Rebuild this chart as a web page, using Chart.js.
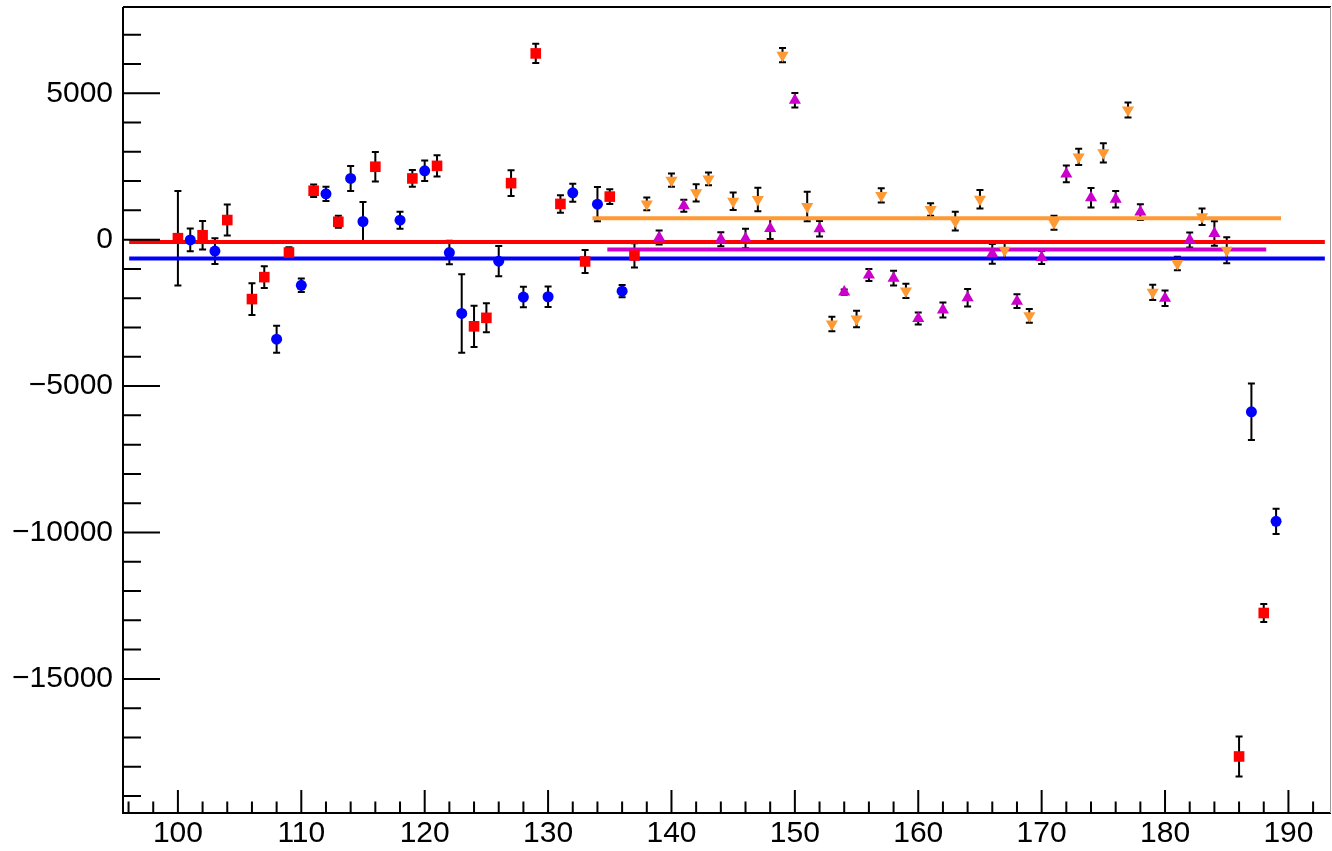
<!DOCTYPE html>
<html>
<head>
<meta charset="utf-8">
<script src="https://cdn.jsdelivr.net/npm/chart.js@4.4.0/dist/chart.umd.min.js"></script>
<style>
  html, body { margin: 0; padding: 0; background: #fff; }
  #wrap { width: 1332px; height: 851px; }
</style>
</head>
<body>
<div id="wrap"><canvas id="chart" width="1332" height="851"></canvas></div>
<script>
// axis labels
const xTicks = [100, 110, 120, 130, 140, 150, 160, 170, 180, 190];
const yTicks = [5000, 0, -5000, -10000, -15000];

// red squares
const redX = [100, 102, 104, 106, 107, 109, 111, 113, 116, 119, 121, 124, 125, 127, 129, 131, 133, 135, 137, 186, 188];
const redY = [50, 150, 670, -2030, -1280, -440, 1670, 610, 2490, 2090, 2520, -2960, -2670, 1930, 6360, 1220, -745, 1470, -540, -17650, -12750];
const redErr = [1615, 490, 530, 540, 375, 180, 215, 205, 505, 285, 365, 705, 495, 440, 330, 300, 390, 250, 415, 680, 310];

// blue circles
const blueX = [101, 103, 108, 110, 112, 114, 115, 118, 120, 122, 123, 126, 128, 130, 132, 134, 136, 187, 189];
const blueY = [-10, -390, -3400, -1560, 1565, 2090, 620, 666, 2350, -440, -2520, -735, -1960, -1950, 1600, 1210, -1760, -5880, -9620];
const blueErr = [390, 440, 460, 230, 245, 425, 665, 290, 350, 400, 1340, 515, 350, 350, 305, 585, 210, 965, 430];

// orange down-triangles
const orangeX = [138, 140, 142, 143, 145, 147, 149, 151, 153, 155, 157, 159, 161, 163, 165, 167, 169, 171, 173, 175, 177, 179, 181, 183, 185];
const orangeY = [1220, 2030, 1600, 2075, 1310, 1370, 6300, 1130, -2880, -2710, 1510, -1750, 1030, 630, 1380, -360, -2600, 575, 2825, 2965, 4430, -1800, -815, 780, -360];
const orangeErr = [220, 225, 295, 220, 300, 400, 245, 505, 245, 285, 245, 245, 210, 320, 315, 290, 235, 240, 275, 330, 255, 260, 230, 280, 445];

// magenta up-triangles
const magentaX = [139, 141, 144, 146, 148, 150, 152, 154, 156, 158, 160, 162, 164, 166, 168, 170, 172, 174, 176, 178, 180, 182, 184];
const magentaY = [75, 1155, 15, 40, 380, 4760, 370, -1790, -1210, -1315, -2690, -2405, -1985, -485, -2100, -610, 2245, 1430, 1380, 940, -2000, -15, 210];
const magentaErr = [240, 205, 240, 330, 360, 245, 265, 90, 205, 255, 205, 255, 300, 340, 235, 220, 285, 335, 285, 265, 265, 255, 415];

// horizontal fit lines: x start/end and level
const redFitX = [96.05, 192.95];
const redFitY = -80;
const blueFitX = [96.05, 192.95];
const blueFitY = -640;
const orangeFitX = [133.6, 189.4];
const orangeFitY = 730;
const magentaFitX = [134.8, 188.2];
const magentaFitY = -340;

const toPoints = (xs, ys) => xs.map((x, i) => ({ x: x, y: ys[i] }));
const flatLine = (xs, level) => xs.map(x => ({ x: x, y: level }));
const fmt = v => (v < 0 ? '\u2212' + Math.abs(v) : String(v));

const errorBars = {
  id: 'errorBars',
  beforeDatasetsDraw(chart) {
    const { ctx, scales: { x, y } } = chart;
    ctx.save();
    ctx.strokeStyle = '#000';
    ctx.lineWidth = 2;
    chart.data.datasets.forEach(ds => {
      if (!ds.errors) return;
      ds.data.forEach((p, i) => {
        const e = ds.errors[i];
        const px = x.getPixelForValue(p.x);
        const top = y.getPixelForValue(p.y + e);
        const bot = y.getPixelForValue(p.y - e);
        ctx.beginPath();
        ctx.moveTo(px, top);
        ctx.lineTo(px, bot);
        ctx.moveTo(px - 3.5, top);
        ctx.lineTo(px + 3.5, top);
        ctx.moveTo(px - 3.5, bot);
        ctx.lineTo(px + 3.5, bot);
        ctx.stroke();
      });
    });
    ctx.restore();
  }
};

// frame and inward ticks, ROOT style
const frame = {
  id: 'frame',
  afterDraw(chart) {
    const { ctx, chartArea: a, scales: { x, y } } = chart;
    ctx.save();
    ctx.strokeStyle = '#000';
    ctx.lineWidth = 2;
    ctx.beginPath();
    for (let v = -19000; v <= 7000; v += 1000) {
      const py = y.getPixelForValue(v);
      const len = v % 5000 === 0 ? 37 : 18;
      ctx.moveTo(a.left, py);
      ctx.lineTo(a.left + len, py);
    }
    for (let v = 96; v <= 192; v += 2) {
      const px = x.getPixelForValue(v);
      const len = v % 10 === 0 ? 23 : 11.5;
      ctx.moveTo(px, a.bottom);
      ctx.lineTo(px, a.bottom - len);
    }
    ctx.stroke();

    ctx.beginPath();
    ctx.moveTo(a.left, a.top);
    ctx.lineTo(a.right, a.top);
    ctx.moveTo(a.left, a.top);
    ctx.lineTo(a.left, a.bottom);
    ctx.lineTo(a.right, a.bottom);
    ctx.stroke();

    ctx.strokeStyle = '#999';
    ctx.lineWidth = 1;
    ctx.beginPath();
    ctx.moveTo(a.right - 0.5, a.top);
    ctx.lineTo(a.right - 0.5, a.bottom);
    ctx.stroke();
    ctx.restore();
  }
};

const noPad = s => {
  s.paddingTop = 0;
  s.paddingBottom = 0;
  s.paddingLeft = 0;
  s.paddingRight = 0;
};

Chart.defaults.font.family = "'Liberation Sans', Arial, sans-serif";
Chart.defaults.color = '#000';

const ctx = document.getElementById('chart').getContext('2d');
new Chart(ctx, {
  type: 'scatter',
  data: {
    datasets: [
      {
        label: 'red', data: toPoints(redX, redY), errors: redErr,
        pointStyle: 'rect', pointRadius: 7.5, backgroundColor: '#ff0000', borderWidth: 0
      },
      {
        label: 'blue', data: toPoints(blueX, blueY), errors: blueErr,
        pointStyle: 'circle', pointRadius: 5.5, backgroundColor: '#0000ff', borderWidth: 0
      },
      {
        label: 'orange', data: toPoints(orangeX, orangeY), errors: orangeErr,
        pointStyle: 'triangle', pointRotation: 180, pointRadius: 7, backgroundColor: '#ff9933', borderWidth: 0
      },
      {
        label: 'magenta', data: toPoints(magentaX, magentaY), errors: magentaErr,
        pointStyle: 'triangle', pointRadius: 7, backgroundColor: '#cc00cc', borderWidth: 0
      },
      {
        type: 'line', label: 'red fit', data: flatLine(redFitX, redFitY),
        borderColor: '#ff0000', borderWidth: 4, pointRadius: 0, fill: false
      },
      {
        type: 'line', label: 'blue fit', data: flatLine(blueFitX, blueFitY),
        borderColor: '#0000ff', borderWidth: 4, pointRadius: 0, fill: false
      },
      {
        type: 'line', label: 'orange fit', data: flatLine(orangeFitX, orangeFitY),
        borderColor: '#ff9933', borderWidth: 4, pointRadius: 0, fill: false
      },
      {
        type: 'line', label: 'magenta fit', data: flatLine(magentaFitX, magentaFitY),
        borderColor: '#cc00cc', borderWidth: 4, pointRadius: 0, fill: false
      }
    ]
  },
  options: {
    responsive: false,
    animation: false,
    devicePixelRatio: 1,
    layout: { autoPadding: false, padding: { top: 7, right: 1, left: 0, bottom: 0 } },
    plugins: { legend: { display: false }, tooltip: { enabled: false } },
    scales: {
      x: {
        type: 'linear',
        min: 95.55,
        max: 193.45,
        grid: { display: false, drawTicks: false },
        border: { display: false },
        afterBuildTicks: s => { s.ticks = xTicks.map(v => ({ value: v })); },
        afterFit: s => { s.height = 38; noPad(s); },
        ticks: { font: { size: 30, lineHeight: 1 }, padding: 6, maxRotation: 0, autoSkip: false, callback: fmt }
      },
      y: {
        type: 'linear',
        min: -19580,
        max: 7945,
        grid: { display: false, drawTicks: false },
        border: { display: false },
        afterBuildTicks: s => { s.ticks = yTicks.map(v => ({ value: v })); },
        afterFit: s => { s.width = 123; noPad(s); },
        ticks: { font: { size: 30 }, padding: 10, autoSkip: false, callback: fmt }
      }
    }
  },
  plugins: [errorBars, frame]
});
</script>
</body>
</html>
